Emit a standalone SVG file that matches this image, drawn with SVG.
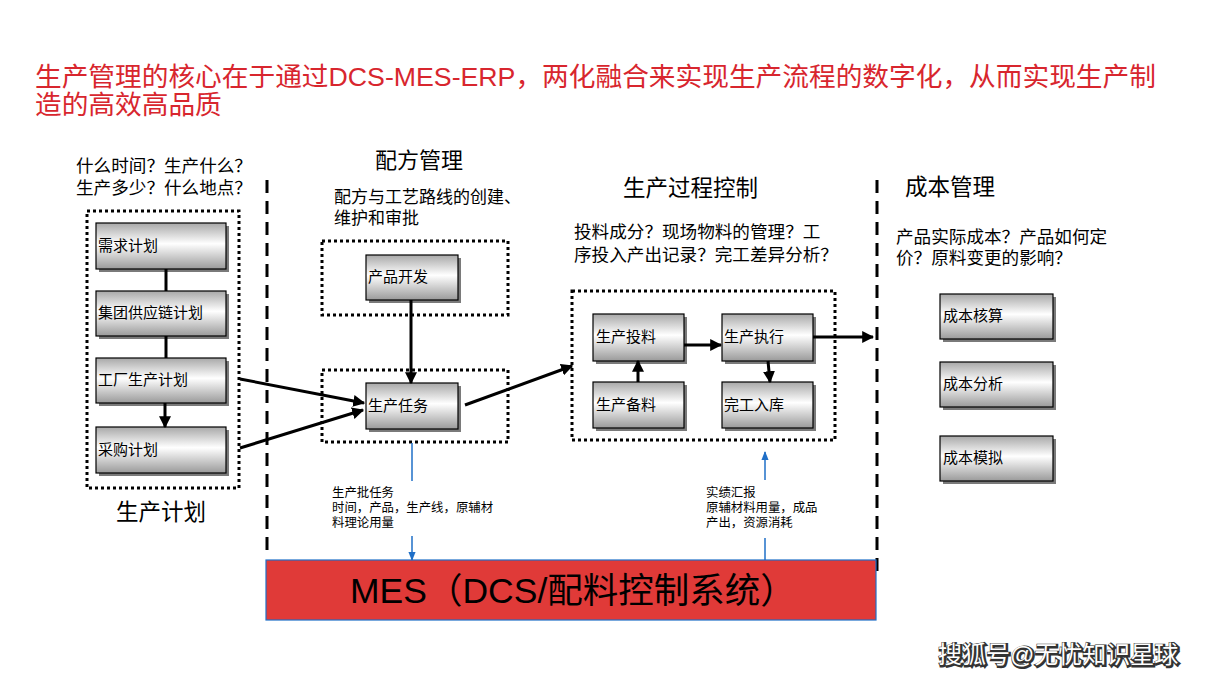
<svg xmlns="http://www.w3.org/2000/svg" width="1209" height="680" viewBox="0 0 1209 680">
<defs>
<linearGradient id="ng" x1="0" y1="0" x2="0" y2="1">
<stop offset="0" stop-color="#a8a8a8"/>
<stop offset="0.45" stop-color="#ffffff"/>
<stop offset="1" stop-color="#9a9a9a"/>
</linearGradient>
<marker id="ah" viewBox="0 0 10 10" refX="9" refY="5" markerWidth="4" markerHeight="4" orient="auto">
<path d="M0,0 L10,5 L0,10 z" fill="#000"/>
</marker>
<marker id="bh" viewBox="0 0 10 10" refX="9" refY="5" markerWidth="6" markerHeight="6" orient="auto">
<path d="M0,1 L10,5 L0,9 z" fill="#1f6fc7"/>
</marker>
</defs>
<style>
text{font-family:"Liberation Sans","Noto Sans CJK SC",sans-serif;fill:#000}
.title{font-size:26.7px;fill:#d8262e}
.q{font-size:17.6px}
.nt{font-size:15px}
.sm{font-size:12.4px}
.shadow{fill:#7a7a7a}
.node{fill:url(#ng);stroke:#000;stroke-width:1.2}
.dot{fill:none;stroke:#000;stroke-width:3;stroke-dasharray:3 3}
.dash{fill:none;stroke:#000;stroke-width:3;stroke-dasharray:13 8}
.c{fill:none;stroke:#000;stroke-width:3}
.b{fill:none;stroke:#1f6fc7;stroke-width:1.5}
</style>
<rect width="1209" height="680" fill="#fff"/>

<text class="title" x="35" y="86">生产管理的核心在于通过DCS-MES-ERP，两化融合来实现生产流程的数字化，从而实现生产制</text>
<text class="title" x="35" y="114">造的高效高品质</text>

<g id="dividers">
<line class="dash" x1="267" y1="180" x2="267" y2="558"/>
<line class="dash" x1="877" y1="180" x2="877" y2="578"/>
</g>

<g id="plan-group">
<text class="q" x="76" y="172">什么时间？生产什么？</text>
<text class="q" x="76" y="194">生产多少？什么地点？</text>
<rect class="dot" x="87" y="211" width="152" height="277"/>
<text x="161" y="520" font-size="22.5" text-anchor="middle">生产计划</text>
</g>
<g id="n-demand"><rect class="shadow" x="99" y="226" width="130" height="46"/><rect class="node" x="96" y="223" width="130" height="46"/><text class="nt" x="98" y="251">需求计划</text></g>
<g id="n-supply"><rect class="shadow" x="99" y="294" width="130" height="45"/><rect class="node" x="96" y="291" width="130" height="45"/><text class="nt" x="98" y="318">集团供应链计划</text></g>
<g id="n-factory"><rect class="shadow" x="99" y="361" width="130" height="45"/><rect class="node" x="96" y="358" width="130" height="45"/><text class="nt" x="98" y="385">工厂生产计划</text></g>
<g id="n-purchase"><rect class="shadow" x="99" y="430" width="130" height="46"/><rect class="node" x="96" y="427" width="130" height="46"/><text class="nt" x="98" y="455">采购计划</text></g>

<g id="recipe-group">
<text x="375" y="168" font-size="22">配方管理</text>
<text x="334" y="203" font-size="17">配方与工艺路线的创建、</text>
<text x="334" y="224" font-size="17">维护和审批</text>
<rect class="dot" x="322" y="241" width="186" height="74"/>
<rect class="dot" x="322" y="370" width="186" height="72"/>
</g>
<g id="n-dev"><rect class="shadow" x="369" y="258" width="92" height="45"/><rect class="node" x="366" y="255" width="92" height="45"/><text class="nt" x="368" y="282">产品开发</text></g>
<g id="n-task"><rect class="shadow" x="369" y="386" width="92" height="46"/><rect class="node" x="366" y="383" width="92" height="46"/><text class="nt" x="368" y="411">生产任务</text></g>

<g id="process-group">
<text x="623" y="196" font-size="22.5">生产过程控制</text>
<text class="q" x="574" y="238">投料成分？现场物料的管理？工</text>
<text class="q" x="574" y="261">序投入产出记录？完工差异分析？</text>
<rect class="dot" x="572" y="291" width="263" height="149"/>
</g>
<g id="n-feed"><rect class="shadow" x="596" y="317" width="91" height="47"/><rect class="node" x="593" y="314" width="91" height="47"/><text class="nt" x="596" y="342">生产投料</text></g>
<g id="n-exec"><rect class="shadow" x="725" y="317" width="91" height="47"/><rect class="node" x="722" y="314" width="91" height="47"/><text class="nt" x="724" y="342">生产执行</text></g>
<g id="n-prep"><rect class="shadow" x="596" y="385" width="91" height="46"/><rect class="node" x="593" y="382" width="91" height="46"/><text class="nt" x="596" y="410">生产备料</text></g>
<g id="n-store"><rect class="shadow" x="725" y="385" width="91" height="46"/><rect class="node" x="722" y="382" width="91" height="46"/><text class="nt" x="724" y="410">完工入库</text></g>

<g id="cost-group">
<text x="905" y="195" font-size="22.5">成本管理</text>
<text class="q" x="896" y="243">产品实际成本？产品如何定</text>
<text class="q" x="896" y="264">价？原料变更的影响？</text>
</g>
<g id="n-calc"><rect class="shadow" x="943" y="297" width="113" height="45"/><rect class="node" x="940" y="294" width="113" height="45"/><text class="nt" x="943" y="321">成本核算</text></g>
<g id="n-anal"><rect class="shadow" x="943" y="365" width="113" height="45"/><rect class="node" x="940" y="362" width="113" height="45"/><text class="nt" x="943" y="389">成本分析</text></g>
<g id="n-sim"><rect class="shadow" x="943" y="439" width="113" height="45"/><rect class="node" x="940" y="436" width="113" height="45"/><text class="nt" x="943" y="463">成本模拟</text></g>

<g id="mes">
<rect x="266" y="560" width="610" height="60" fill="#e03a38" stroke="#1f6fc7" stroke-width="1.2"/>
<text x="350" y="603" font-size="35.5">MES（DCS/配料控制系统）</text>
</g>

<g id="connectors">
<line class="c" x1="166" y1="269" x2="166" y2="291"/>
<line class="c" x1="166" y1="336" x2="166" y2="358"/>
<line class="c" x1="165" y1="403" x2="165" y2="427" marker-end="url(#ah)"/>
<line class="c" x1="240" y1="379" x2="364" y2="403" marker-end="url(#ah)"/>
<line class="c" x1="240" y1="448" x2="363" y2="410" marker-end="url(#ah)"/>
<line class="c" x1="411" y1="300" x2="411" y2="383" marker-end="url(#ah)"/>
<line class="c" x1="465" y1="405" x2="572" y2="366" marker-end="url(#ah)"/>
<line class="c" x1="638" y1="382" x2="638" y2="361" marker-end="url(#ah)"/>
<line class="c" x1="684" y1="345" x2="721" y2="345" marker-end="url(#ah)"/>
<line class="c" x1="768" y1="361" x2="770" y2="382" marker-end="url(#ah)"/>
<line class="c" x1="813" y1="337" x2="873" y2="337" marker-end="url(#ah)"/>
<line class="b" x1="412" y1="443" x2="412" y2="481"/>
<line class="b" x1="412" y1="536" x2="412" y2="560" marker-end="url(#bh)"/>
<line class="b" x1="765" y1="560" x2="765" y2="538"/>
<line class="b" x1="765" y1="480" x2="765" y2="452" marker-end="url(#bh)"/>
</g>

<g id="labels">
<text class="sm" x="332" y="497">生产批任务</text>
<text class="sm" x="332" y="512">时间，产品，生产线，原辅材</text>
<text class="sm" x="332" y="527">料理论用量</text>
<text class="sm" x="706" y="497">实绩汇报</text>
<text class="sm" x="706" y="512">原辅材料用量，成品</text>
<text class="sm" x="706" y="527">产出，资源消耗</text>
</g>

<text x="939" y="664" font-size="24" stroke="#333" stroke-width="3" style="fill:#333">搜狐号@无忧知识星球</text>
<text x="938" y="663" font-size="24" style="fill:#fff">搜狐号@无忧知识星球</text>
</svg>
